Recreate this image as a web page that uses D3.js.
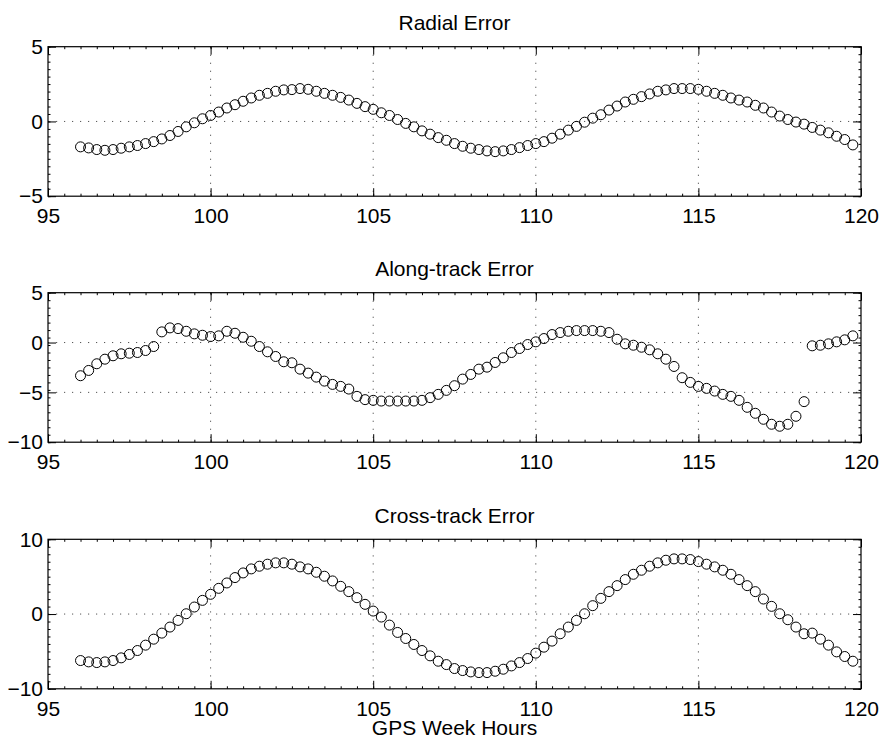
<!DOCTYPE html>
<html>
<head>
<meta charset="utf-8">
<script src="https://d3js.org/d3.v7.min.js"></script>
<style>
    body { margin: 0; background: #fff; }
    text { font-family: "Liberation Sans", Arial, sans-serif; fill: #000; }
</style>
</head>
<body>
<script>
// sample times (GPS week hours), one every quarter hour
var hours = [
    96.00, 96.25, 96.50, 96.75, 97.00, 97.25, 97.50, 97.75, 98.00, 98.25, 98.50, 98.75,
    99.00, 99.25, 99.50, 99.75, 100.00, 100.25, 100.50, 100.75, 101.00, 101.25, 101.50, 101.75,
    102.00, 102.25, 102.50, 102.75, 103.00, 103.25, 103.50, 103.75, 104.00, 104.25, 104.50, 104.75,
    105.00, 105.25, 105.50, 105.75, 106.00, 106.25, 106.50, 106.75, 107.00, 107.25, 107.50, 107.75,
    108.00, 108.25, 108.50, 108.75, 109.00, 109.25, 109.50, 109.75, 110.00, 110.25, 110.50, 110.75,
    111.00, 111.25, 111.50, 111.75, 112.00, 112.25, 112.50, 112.75, 113.00, 113.25, 113.50, 113.75,
    114.00, 114.25, 114.50, 114.75, 115.00, 115.25, 115.50, 115.75, 116.00, 116.25, 116.50, 116.75,
    117.00, 117.25, 117.50, 117.75, 118.00, 118.25, 118.50, 118.75, 119.00, 119.25, 119.50, 119.75
];

var radialErr = [
    -1.70, -1.77, -1.88, -1.93, -1.88, -1.79, -1.70, -1.61, -1.48, -1.35, -1.17, -0.94,
    -0.67, -0.36, -0.09, 0.18, 0.40, 0.63, 0.90, 1.12, 1.35, 1.57, 1.75, 1.88,
    2.02, 2.11, 2.13, 2.20, 2.15, 2.02, 1.88, 1.75, 1.61, 1.43, 1.21, 0.99,
    0.81, 0.58, 0.40, 0.13, -0.13, -0.36, -0.63, -0.85, -1.08, -1.26, -1.48, -1.66,
    -1.79, -1.88, -1.97, -2.02, -1.97, -1.88, -1.75, -1.61, -1.48, -1.35, -1.12, -0.85,
    -0.58, -0.33, -0.05, 0.22, 0.45, 0.76, 1.03, 1.30, 1.48, 1.66, 1.84, 2.02,
    2.11, 2.20, 2.20, 2.20, 2.15, 2.02, 1.88, 1.75, 1.57, 1.43, 1.30, 1.08,
    0.90, 0.63, 0.36, 0.13, -0.04, -0.18, -0.40, -0.58, -0.76, -0.99, -1.21, -1.57
];

var alongErr = [
    -3.33, -2.80, -2.13, -1.67, -1.33, -1.13, -1.07, -1.00, -0.80, -0.40, 1.07, 1.47,
    1.40, 1.13, 0.87, 0.73, 0.60, 0.67, 1.13, 0.93, 0.53, 0.13, -0.40, -0.93,
    -1.40, -1.93, -2.03, -2.67, -3.07, -3.47, -3.87, -4.20, -4.40, -4.67, -5.40, -5.73,
    -5.80, -5.87, -5.87, -5.87, -5.87, -5.87, -5.80, -5.53, -5.20, -4.80, -4.33, -3.67,
    -3.20, -2.67, -2.47, -2.00, -1.53, -1.00, -0.60, -0.20, 0.07, 0.40, 0.80, 1.00,
    1.13, 1.20, 1.20, 1.20, 1.13, 1.00, 0.33, -0.13, -0.27, -0.47, -0.73, -1.13,
    -1.67, -2.40, -3.53, -4.00, -4.40, -4.60, -4.87, -5.20, -5.40, -5.80, -6.50, -7.10,
    -7.70, -8.20, -8.40, -8.20, -7.40, -5.93, -0.33, -0.27, -0.13, 0.07, 0.27, 0.67
];

var crossErr = [
    -6.22, -6.40, -6.49, -6.40, -6.22, -5.86, -5.41, -4.88, -4.16, -3.36, -2.55, -1.74,
    -0.85, 0.04, 0.94, 1.83, 2.64, 3.44, 4.16, 4.88, 5.50, 6.04, 6.40, 6.67,
    6.85, 6.85, 6.67, 6.31, 6.04, 5.59, 5.06, 4.43, 3.71, 3.00, 2.19, 1.30,
    0.40, -0.40, -1.48, -2.46, -3.27, -4.07, -4.88, -5.59, -6.31, -6.76, -7.29, -7.56,
    -7.74, -7.83, -7.83, -7.65, -7.38, -6.94, -6.49, -5.95, -5.23, -4.43, -3.62, -2.64,
    -1.74, -0.85, 0.04, 1.12, 2.10, 3.00, 3.80, 4.61, 5.32, 5.86, 6.40, 6.85,
    7.20, 7.38, 7.38, 7.29, 7.02, 6.67, 6.31, 5.86, 5.32, 4.61, 3.80, 3.00,
    2.01, 1.03, 0.04, -0.76, -1.74, -2.64, -2.55, -3.36, -4.16, -5.06, -5.68, -6.31
];

var titles = ['Radial Error', 'Along-track Error', 'Cross-track Error'];
var xTicks = [95, 100, 105, 110, 115, 120];
var yTickSets = [[-5, 0, 5], [-10, -5, 0, 5], [-10, 0, 10]];
var xLabel = 'GPS Week Hours';

window.onload = function () {
    var w = 884,
        h = 744;

    var left = 48,
        right = 861,
        panelH = 149.5,
        panelTops = [46.7, 292.7, 539.3];

    var svg = d3.select('body')
        .append('svg')
        .attr('width', w)
        .attr('height', h);

    var x = d3.scaleLinear()
        .domain([95, 120])
        .range([left, right]);

    var series = [radialErr, alongErr, crossErr];

    series.forEach(function (vals, k) {
        var top = panelTops[k],
            bottom = top + panelH,
            yTicks = yTickSets[k];

        var y = d3.scaleLinear()
            .domain([yTicks[0], yTicks[yTicks.length - 1]])
            .range([bottom, top]);

        var g = svg.append('g').attr('class', 'panel');

        // white axes background
        g.append('rect')
            .attr('x', left)
            .attr('y', top)
            .attr('width', right - left)
            .attr('height', panelH)
            .style('fill', '#fff');

        // dotted grid at major ticks
        g.selectAll('.vgrid')
            .data(xTicks.slice(1, -1))
            .enter()
            .append('line')
            .attr('x1', function (d) { return x(d); })
            .attr('x2', function (d) { return x(d); })
            .attr('y1', top)
            .attr('y2', bottom)
            .style('stroke', '#555')
            .style('stroke-width', 1)
            .style('stroke-dasharray', '1.2,6.8');

        g.selectAll('.hgrid')
            .data(yTicks.slice(1, -1))
            .enter()
            .append('line')
            .attr('x1', left)
            .attr('x2', right)
            .attr('y1', function (d) { return y(d); })
            .attr('y2', function (d) { return y(d); })
            .style('stroke', '#555')
            .style('stroke-width', 1)
            .style('stroke-dasharray', '1.2,6.8');

        // axes, ticks pointing inward (matlab style)
        var minorX = d3.range(95, 120.001, 0.5);
        var yStep = (yTicks[yTicks.length - 1] - yTicks[0]) / 20;
        var minorY = d3.range(yTicks[0], yTicks[yTicks.length - 1] + 0.001, yStep);

        g.append('g')
            .attr('transform', 'translate(0,' + bottom + ')')
            .call(d3.axisBottom(x).tickValues(minorX).tickSize(-2.5).tickFormat(''))
            .call(function (a) { a.select('.domain').remove(); a.selectAll('line').style('stroke', '#444'); });
        g.append('g')
            .attr('transform', 'translate(0,' + top + ')')
            .call(d3.axisTop(x).tickValues(minorX).tickSize(-2.5).tickFormat(''))
            .call(function (a) { a.select('.domain').remove(); a.selectAll('line').style('stroke', '#444'); });
        g.append('g')
            .attr('transform', 'translate(' + left + ',0)')
            .call(d3.axisLeft(y).tickValues(minorY).tickSize(-2.5).tickFormat(''))
            .call(function (a) { a.select('.domain').remove(); a.selectAll('line').style('stroke', '#444'); });
        g.append('g')
            .attr('transform', 'translate(' + right + ',0)')
            .call(d3.axisRight(y).tickValues(minorY).tickSize(-2.5).tickFormat(''))
            .call(function (a) { a.select('.domain').remove(); a.selectAll('line').style('stroke', '#444'); });

        var xAxis = g.append('g')
            .attr('class', 'axis')
            .attr('transform', 'translate(0,' + bottom + ')')
            .call(d3.axisBottom(x).tickValues(xTicks).tickSizeInner(-8).tickSizeOuter(0).tickPadding(12));
        xAxis.select('.domain').remove();
        xAxis.selectAll('text').style('font-size', '21px').attr('dy', '0.71em');

        var xTop = g.append('g')
            .attr('transform', 'translate(0,' + top + ')')
            .call(d3.axisTop(x).tickValues(xTicks).tickSizeInner(-8).tickSizeOuter(0).tickFormat(''));
        xTop.select('.domain').remove();

        var yAxis = g.append('g')
            .attr('class', 'axis')
            .attr('transform', 'translate(' + left + ',0)')
            .call(d3.axisLeft(y).tickValues(yTicks).tickSizeInner(-8).tickSizeOuter(0).tickPadding(5));
        yAxis.select('.domain').remove();
        yAxis.selectAll('text').style('font-size', '21px');

        var yRight = g.append('g')
            .attr('transform', 'translate(' + right + ',0)')
            .call(d3.axisRight(y).tickValues(yTicks).tickSizeInner(-8).tickSizeOuter(0).tickFormat(''));
        yRight.select('.domain').remove();

        g.selectAll('.tick line').style('stroke', '#000');

        // box
        g.append('rect')
            .attr('x', left)
            .attr('y', top)
            .attr('width', right - left)
            .attr('height', panelH)
            .style('fill', 'none')
            .style('stroke', '#000')
            .style('stroke-width', 1.2);

        // markers
        g.selectAll('.pt')
            .data(vals)
            .enter()
            .append('circle')
            .attr('class', 'pt')
            .attr('cx', function (d, i) { return x(hours[i]); })
            .attr('cy', function (d) { return y(d); })
            .attr('r', 5)
            .style('fill', 'none')
            .style('stroke', '#000')
            .style('stroke-width', 1);

        g.append('text')
            .attr('x', (left + right) / 2)
            .attr('y', top - 16.5)
            .attr('text-anchor', 'middle')
            .style('font-size', '21px')
            .text(titles[k]);
    });

    svg.append('text')
        .attr('x', (left + right) / 2)
        .attr('y', 735)
        .attr('text-anchor', 'middle')
        .style('font-size', '21px')
        .text(xLabel);
};
</script>
</body>
</html>
